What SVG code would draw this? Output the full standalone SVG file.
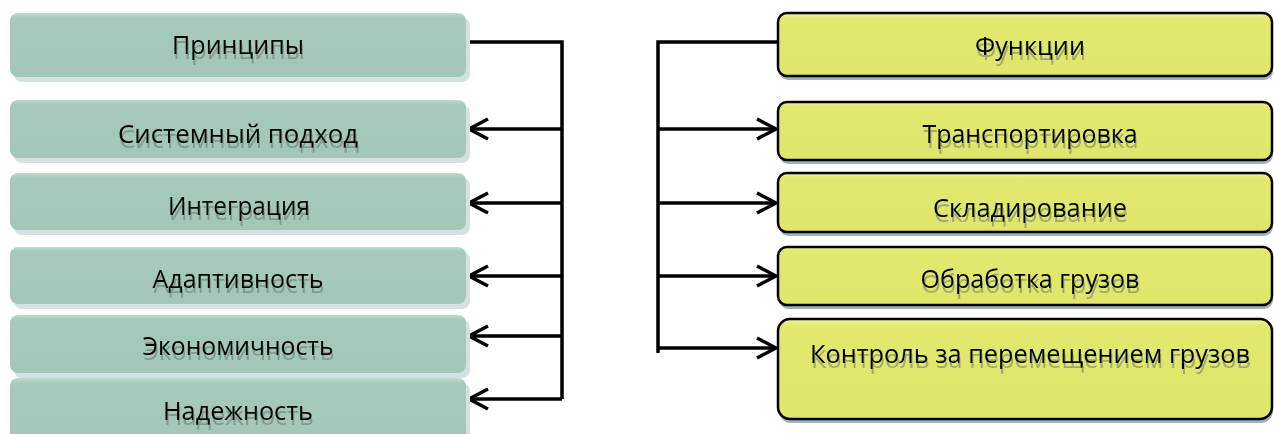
<svg xmlns="http://www.w3.org/2000/svg" width="1274" height="434" viewBox="0 0 1274 434">
<style>
.lbox{fill:url(#gg)}
.lsh{fill:#d6e0e0}
.rbox{fill:url(#yg);stroke:#000;stroke-width:2.5}
.rsh{fill:#9db3be}
.t{font-family:"Open Sans","Noto Sans",sans-serif;font-size:25px;fill:#000;text-anchor:middle;filter:url(#ts)}
.c{fill:none;stroke:#000;stroke-width:3.5}
.a{fill:none;stroke:#000;stroke-width:3.5;marker-end:url(#arr)}
</style>
<defs>
<linearGradient id="gg" x1="0" y1="0" x2="0" y2="1">
<stop offset="0" stop-color="#bcdccd"/>
<stop offset="0.08" stop-color="#a5cabb"/>
<stop offset="1" stop-color="#a2c7b7"/>
</linearGradient>
<linearGradient id="yg" x1="0" y1="0" x2="0" y2="1">
<stop offset="0" stop-color="#eef39c"/>
<stop offset="0.08" stop-color="#e2e86e"/>
<stop offset="1" stop-color="#dfe66a"/>
</linearGradient>
<filter id="ts" x="-5%" y="-20%" width="110%" height="170%">
<feOffset in="SourceAlpha" dx="0.5" dy="5" result="o"/>
<feFlood flood-color="#5c6b66" flood-opacity="0.5"/>
<feComposite in2="o" operator="in" result="s"/>
<feMerge><feMergeNode in="s"/><feMergeNode in="SourceGraphic"/></feMerge>
</filter>
<marker id="arr" markerUnits="userSpaceOnUse" viewBox="0 0 24 24" refX="21" refY="12" markerWidth="24" markerHeight="24" orient="auto" overflow="visible">
<path d="M2,2 L21,12 L2,22" fill="none" stroke="#000" stroke-width="3.5"/>
</marker>
</defs>

<g id="connectors">
<path class="c" d="M466,42 H562 V399"/>
<line class="a" x1="562" y1="129" x2="469" y2="129"/>
<line class="a" x1="562" y1="203" x2="469" y2="203"/>
<line class="a" x1="562" y1="276" x2="469" y2="276"/>
<line class="a" x1="562" y1="336" x2="469" y2="336"/>
<line class="a" x1="562" y1="399" x2="469" y2="399"/>
<path class="c" d="M778,42 H658 V353"/>
<line class="a" x1="658" y1="129" x2="776" y2="129"/>
<line class="a" x1="658" y1="203" x2="776" y2="203"/>
<line class="a" x1="658" y1="276" x2="776" y2="276"/>
<line class="a" x1="658" y1="348" x2="776" y2="348"/>
</g>

<g id="principles">
<rect class="lsh" x="14" y="18" width="456" height="64" rx="8"/>
<rect class="lbox" x="10" y="13" width="456" height="64" rx="8"/>
<text class="t" x="238" y="54" textLength="132" lengthAdjust="spacingAndGlyphs">Принципы</text>
</g>
<g id="system">
<rect class="lsh" x="14" y="105" width="456" height="58" rx="8"/>
<rect class="lbox" x="10" y="100" width="456" height="58" rx="8"/>
<text class="t" x="238" y="143" textLength="240" lengthAdjust="spacingAndGlyphs">Системный подход</text>
</g>
<g id="integration">
<rect class="lsh" x="14" y="178" width="456" height="57" rx="8"/>
<rect class="lbox" x="10" y="173" width="456" height="57" rx="8"/>
<text class="t" x="239" y="215" textLength="142" lengthAdjust="spacingAndGlyphs">Интеграция</text>
</g>
<g id="adaptivity">
<rect class="lsh" x="14" y="252" width="456" height="57" rx="8"/>
<rect class="lbox" x="10" y="247" width="456" height="57" rx="8"/>
<text class="t" x="238" y="288" textLength="171" lengthAdjust="spacingAndGlyphs">Адаптивность</text>
</g>
<g id="economy">
<rect class="lsh" x="14" y="320" width="456" height="58" rx="8"/>
<rect class="lbox" x="10" y="315" width="456" height="58" rx="8"/>
<text class="t" x="238" y="355" textLength="191" lengthAdjust="spacingAndGlyphs">Экономичность</text>
</g>
<g id="reliability">
<rect class="lsh" x="14" y="383" width="456" height="70" rx="8"/>
<rect class="lbox" x="10" y="378" width="456" height="70" rx="8"/>
<text class="t" x="238" y="420" textLength="150" lengthAdjust="spacingAndGlyphs">Надежность</text>
</g>

<g id="functions">
<rect class="rsh" x="779" y="17" width="494" height="63" rx="9"/>
<rect class="rbox" x="778" y="13" width="494" height="63" rx="9"/>
<text class="t" x="1030" y="55" textLength="110" lengthAdjust="spacingAndGlyphs">Функции</text>
</g>
<g id="transport">
<rect class="rsh" x="779" y="106" width="494" height="58" rx="9"/>
<rect class="rbox" x="778" y="102" width="494" height="58" rx="9"/>
<text class="t" x="1030" y="143" textLength="215" lengthAdjust="spacingAndGlyphs">Транспортировка</text>
</g>
<g id="storage">
<rect class="rsh" x="779" y="177" width="494" height="59" rx="9"/>
<rect class="rbox" x="778" y="173" width="494" height="59" rx="9"/>
<text class="t" x="1030" y="217" textLength="194" lengthAdjust="spacingAndGlyphs">Складирование</text>
</g>
<g id="handling">
<rect class="rsh" x="779" y="251" width="494" height="58" rx="9"/>
<rect class="rbox" x="778" y="247" width="494" height="58" rx="9"/>
<text class="t" x="1030" y="288" textLength="219" lengthAdjust="spacingAndGlyphs">Обработка грузов</text>
</g>
<g id="control">
<rect class="rsh" x="779" y="323" width="494" height="100" rx="12"/>
<rect class="rbox" x="778" y="319" width="494" height="100" rx="12"/>
<text class="t" x="1030" y="363" textLength="440" lengthAdjust="spacingAndGlyphs">Контроль за перемещением грузов</text>
</g>
</svg>
